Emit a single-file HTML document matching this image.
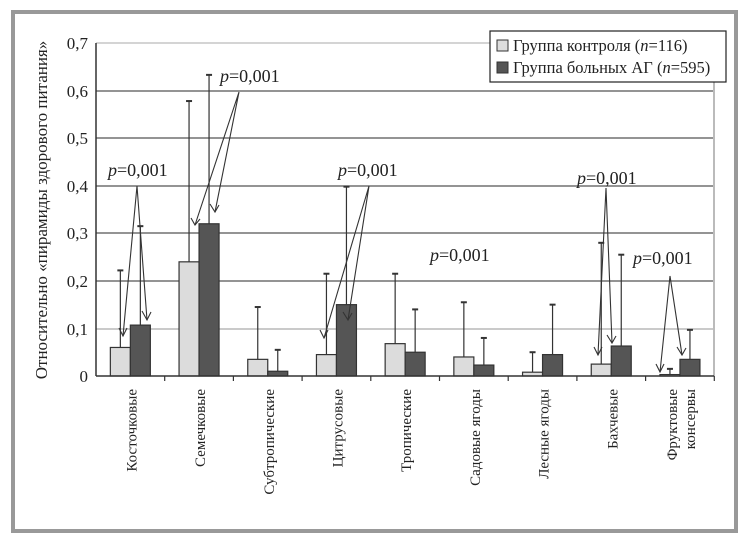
<!DOCTYPE html>
<html><head><meta charset="utf-8"><style>
html,body{margin:0;padding:0;background:#fff;}
svg{display:block;}
text{font-family:"Liberation Serif","Times New Roman",serif;fill:#222;}
</style></head><body>
<svg width="752" height="545" viewBox="0 0 752 545" xmlns="http://www.w3.org/2000/svg">
<rect x="13" y="12" width="723" height="519" fill="#fff" stroke="#999" stroke-width="4"/>
<g stroke="#555" stroke-width="1.2">
<line x1="96" y1="43" x2="714" y2="43" stroke="#bbb"/>
<line x1="96" y1="91" x2="714" y2="91"/>
<line x1="96" y1="138" x2="714" y2="138"/>
<line x1="96" y1="186" x2="714" y2="186"/>
<line x1="96" y1="233" x2="714" y2="233"/>
<line x1="96" y1="281" x2="714" y2="281"/>
<line x1="96" y1="329" x2="714" y2="329" stroke="#aaa"/>
</g>
<line x1="714" y1="43" x2="714" y2="376" stroke="#bbb" stroke-width="2"/>
<g font-size="17" text-anchor="end">
<text x="88" y="49">0,7</text><text x="88" y="97">0,6</text><text x="88" y="144">0,5</text>
<text x="88" y="192">0,4</text><text x="88" y="239">0,3</text><text x="88" y="287">0,2</text>
<text x="88" y="335">0,1</text><text x="88" y="382">0</text>
</g>
<text transform="translate(47,210) rotate(-90)" font-size="17" text-anchor="middle">Относительно «пирамиды здорового питания»</text>
<g id="bars" stroke="#333" stroke-width="1.2"></g>
<line x1="96" y1="43" x2="96" y2="376" stroke="#333" stroke-width="1.5"/>
<line x1="96" y1="376" x2="714" y2="376" stroke="#333" stroke-width="1.5"/>
<g id="ticks" stroke="#333" stroke-width="1.2"></g>
<g id="labels" font-size="15"></g>
<g stroke="#333" stroke-width="1.1" fill="none">
<polyline points="123,336 137,186 147,320"/>
<polyline points="195,225 239,92 215,212"/>
<polyline points="324,338 369,186 348,320"/>
<polyline points="598,355 606,188 612,343"/>
<polyline points="660,372 670,276 682,355"/>
</g>
<g stroke="#333" stroke-width="1.1" fill="none">
<polyline points="119,328 123,336 127,328"/><polyline points="142,311 147,320 151,312"/>
<polyline points="191,218 195,225 200,219"/><polyline points="210,204 215,212 219,205"/>
<polyline points="320,330 324,338 328,330"/><polyline points="343,312 348,320 352,313"/>
<polyline points="594,347 598,355 602,347"/><polyline points="607,335 612,343 616,336"/>
<polyline points="656,364 660,372 664,364"/><polyline points="677,347 682,355 686,348"/>
</g>
<g font-size="18">
<text x="108" y="176"><tspan font-style="italic">p</tspan>=0,001</text>
<text x="220" y="82"><tspan font-style="italic">p</tspan>=0,001</text>
<text x="338" y="176"><tspan font-style="italic">p</tspan>=0,001</text>
<text x="430" y="261"><tspan font-style="italic">p</tspan>=0,001</text>
<text x="577" y="184"><tspan font-style="italic">p</tspan>=0,001</text>
<text x="633" y="264"><tspan font-style="italic">p</tspan>=0,001</text>
</g>
<rect x="490" y="31" width="236" height="51" fill="#fff" stroke="#222" stroke-width="1.2"/>
<rect x="497" y="40" width="11" height="11" fill="#ddd" stroke="#333"/>
<rect x="497" y="62" width="11" height="11" fill="#555" stroke="#333"/>
<g font-size="16.5"><text x="513" y="51">Группа контроля (<tspan font-style="italic">n</tspan>=116)</text>
<text x="513" y="73">Группа больных АГ (<tspan font-style="italic">n</tspan>=595)</text></g>
<script>
var d=[[.06,.222,.107,.315],[.24,.578,.32,.633],[.035,.145,.01,.055],[.045,.215,.15,.398],[.068,.215,.05,.14],[.04,.155,.023,.08],[.008,.05,.045,.15],[.025,.28,.063,.255],[.003,.015,.035,.097]];
var names=["Косточковые","Семечковые","Субтропические","Цитрусовые","Тропические","Садовые ягоды","Лесные ягоды","Бахчевые",["Фруктовые","консервы"]];
var ns="http://www.w3.org/2000/svg",B=document.getElementById("bars"),T=document.getElementById("ticks"),L=document.getElementById("labels");
function y(v){return 376-v*475.7;}
function el(p,t,a){var e=document.createElementNS(ns,t);for(var k in a)e.setAttribute(k,a[k]);p.appendChild(e);return e;}
for(var i=0;i<9;i++){var c=96+68.7*(i+.5);
 [[c-20,d[i][0],d[i][1],"#dcdcdc"],[c,d[i][2],d[i][3],"#555"]].forEach(function(b){
  var mx=b[0]+10;
  el(B,"line",{x1:mx,y1:y(b[1]),x2:mx,y2:y(b[2])});
  el(B,"line",{x1:mx-3,y1:y(b[2]),x2:mx+3,y2:y(b[2]),"stroke-width":2});
  el(B,"rect",{x:b[0],y:y(b[1]),width:20,height:376-y(b[1]),fill:b[3]});
 });
 el(T,"line",{x1:96+68.7*(i+1),y1:376,x2:96+68.7*(i+1),y2:381});
 var n=names[i];
 if(typeof n=="string"){var t=el(L,"text",{transform:"translate("+(c+6)+",389) rotate(-90)","text-anchor":"end"});t.textContent=n;}
 else{var t=el(L,"text",{transform:"translate("+(c-3)+",389) rotate(-90)","text-anchor":"end"});t.textContent=n[0];
  var t2=el(L,"text",{transform:"translate("+(c+15)+",389) rotate(-90)","text-anchor":"end"});t2.textContent=n[1];}
}
</script>
</svg>
</body></html>
